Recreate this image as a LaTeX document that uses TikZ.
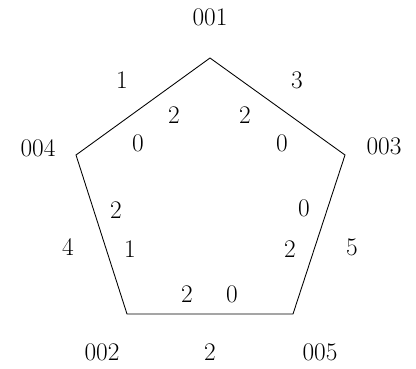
\documentclass[tikz,border=0pt]{standalone}
\begin{document}
\begin{tikzpicture}[x=0.75pt,y=-0.75pt,
  lbl/.style={inner sep=0pt,font=\fontsize{19}{22}\selectfont},
  edge/.style={draw=black,line width=0.65pt,line join=miter}]
\useasboundingbox (0,0) rectangle (416,368);
\coordinate (v1) at (210,58);
\coordinate (v3) at (345,155);
\coordinate (v5) at (293,314);
\coordinate (v2) at (127,314);
\coordinate (v4) at (76,155);
\draw[edge] (v1) -- (v3) -- (v5) -- (v2) -- (v4) -- cycle;
% vertex labels
\node[lbl] (n001) at (210,17) {001};
\node[lbl] (n003) at (384,146) {003};
\node[lbl] (n005) at (320,352) {005};
\node[lbl] (n002) at (102,352) {002};
\node[lbl] (n004) at (38,148) {004};
% edge weights
\node[lbl] (e14) at (122,80) {1};
\node[lbl] (e13) at (297,80) {3};
\node[lbl] (e35) at (352,247) {5};
\node[lbl] (e25) at (210,352) {2};
\node[lbl] (e24) at (68,247) {4};
% inner labels
\node[lbl] (a1) at (174,115) {2};
\node[lbl] (a2) at (245,115) {2};
\node[lbl] (a3) at (138,143) {0};
\node[lbl] (a4) at (282,143) {0};
\node[lbl] (a5) at (116,210) {2};
\node[lbl] (a6) at (130,249) {1};
\node[lbl] (a7) at (304,208) {0};
\node[lbl] (a8) at (290,249) {2};
\node[lbl] (a9) at (187,294) {2};
\node[lbl] (a10) at (232,294) {0};
\end{tikzpicture}
\end{document}
